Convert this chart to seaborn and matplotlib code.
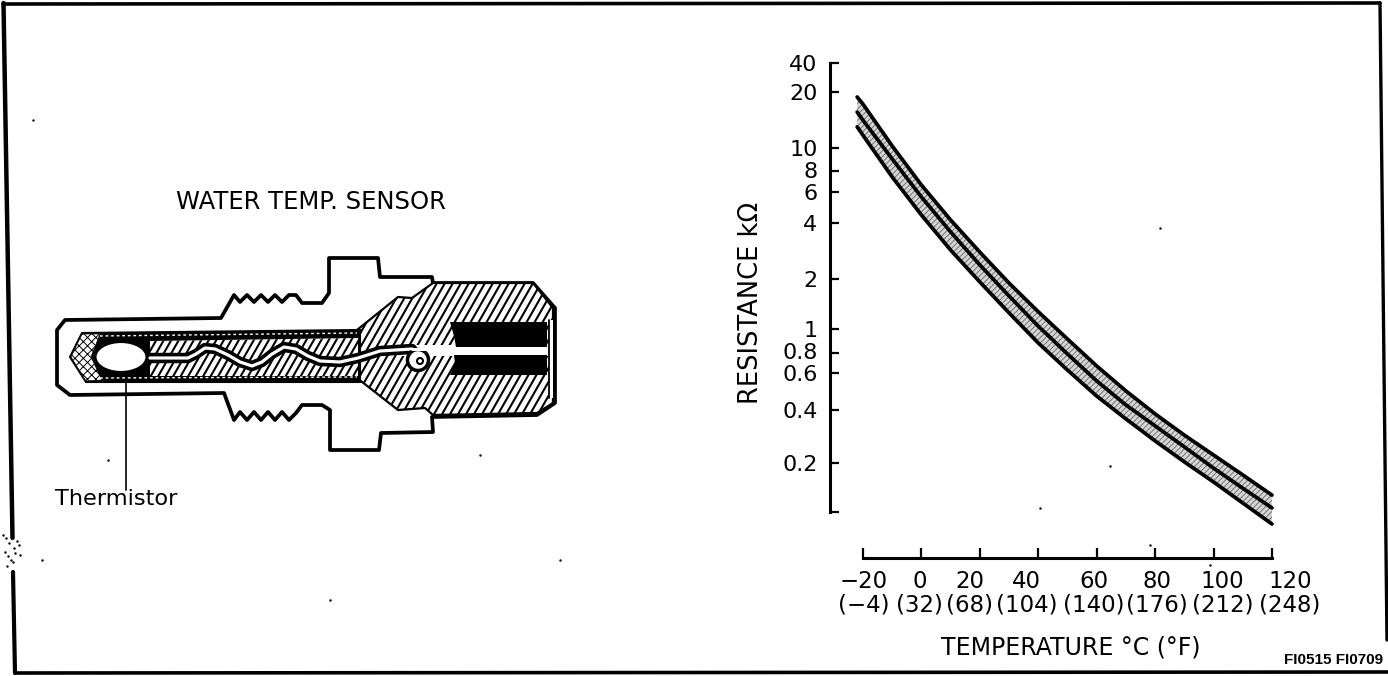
import numpy as np
import pandas as pd
import matplotlib
matplotlib.use("Agg")
import matplotlib.pyplot as plt
from matplotlib.patches import Polygon, Ellipse
from matplotlib.ticker import NullLocator
from matplotlib.transforms import ScaledTranslation
import seaborn as sns

# ---------- data ----------
temps = [-22, -20, -10, 0, 10, 20, 30, 40, 50, 60, 70, 80, 90, 100, 110, 120]
upper = [18.8, 17.2, 10.25, 6.60, 4.16, 2.79, 1.89, 1.27, 0.911, 0.664, 0.493, 0.380, 0.288, 0.222, 0.169, 0.127]
center = [15.6, 14.1, 8.99, 5.62, 3.58, 2.38, 1.58, 1.04, 0.789, 0.550, 0.423, 0.325, 0.247, 0.186, 0.140, 0.106]
lower = [13.0, 11.7, 7.37, 4.44, 2.86, 1.92, 1.25, 0.878, 0.626, 0.466, 0.356, 0.267, 0.203, 0.153, 0.1136, 0.0844]
y_ticks = [0.1, 0.2, 0.4, 0.6, 0.8, 1, 2, 4, 6, 8, 10, 20, 40]
y_labels = ["", "0.2", "0.4", "0.6", "0.8", "1", "2", "4", "6", "8", "10", "20", "40"]
x_ticks = [-20, 0, 20, 40, 60, 80, 100, 120]
x_labels = ["\u221220\n(\u22124)", "0\n(32)", "20\n(68)", "40\n(104)",
            "60\n(140)", "80\n(176)", "100\n(212)", "120\n(248)"]
# the printed axis is hand-ruled: pixel row of each y tick (same order as y_ticks)
y_tick_rows = [512, 463, 410, 373, 353, 329, 279, 223, 192, 171, 148, 92, 63]
x_label_shift = [1, -2, -10, -12, -3, 2, 9, 18]
y_label_shift = [0, 0, 0, 0, 2, 0, 0, 0, 0, 1, 0, 0, 0]

sns.set_theme(style="white")
plt.rcParams["font.family"] = ["DejaVu Sans"]
plt.rcParams["hatch.linewidth"] = 0.7

W, H = 1388, 676
fig = plt.figure(figsize=(W / 100, H / 100), dpi=100, facecolor="white")

# ---------- illustration layer (pixel coordinates) ----------
bg = fig.add_axes([0, 0, 1, 1], zorder=0)
bg.set_xlim(0, W)
bg.set_ylim(H, 0)
bg.axis("off")


def stripes(points, z, spacing=8.0, lean=8.0, lw=1.5):
    """Steep diagonal hatching clipped to a polygon."""
    patch = Polygon(points, closed=True, fc="white", ec="none", zorder=z)
    bg.add_patch(patch)
    xs = [p[0] for p in points]
    ys = [p[1] for p in points]
    top, bot = min(ys), max(ys)
    span = (bot - top) * lean / 14.0
    for x0 in np.arange(min(xs) - span, max(xs) + span, spacing):
        ln, = bg.plot([x0, x0 + span], [bot, top], color="black", lw=lw, zorder=z + 0.1)
        ln.set_clip_path(patch)


shell = [(57, 330), (65, 320), (221, 318), (234, 295), (240, 302), (247, 295), (254, 302), (261, 295),
         (268, 302), (275, 295), (282, 302), (289, 295), (296, 295), (302, 303), (322, 303), (329, 293),
         (329, 258), (378, 258), (380, 277), (432, 277), (433, 283), (533, 283), (555, 308), (555, 403),
         (537, 415), (432, 417), (433, 432), (381, 433), (379, 450), (330, 450), (330, 410), (322, 405),
         (302, 405), (296, 413), (289, 420), (282, 412), (275, 420), (268, 412), (261, 420), (254, 412),
         (247, 420), (240, 412), (234, 420), (224, 393), (70, 395), (57, 385)]
bg.add_patch(Polygon(shell, closed=True, fc="white", ec="black", lw=2.7, joinstyle="round", zorder=1))

body = [(357, 330), (398, 297), (412, 298), (433, 283), (533, 283), (553, 308), (553, 403),
        (537, 413), (433, 415), (425, 408), (398, 410), (357, 378)]
stripes(body, 2)
bg.add_patch(Polygon(body, closed=True, fc="none", ec="black", lw=1.6, zorder=2.5))

tube = [(82, 333), (360, 330), (360, 382), (86, 382), (70, 357)]
bg.add_patch(Polygon(tube, closed=True, fc="black", ec="black", lw=1.5, zorder=3))
tip = [(82, 334), (100, 334), (91, 357), (102, 380), (86, 381), (71, 357)]
bg.add_patch(Polygon(tip, closed=True, fc="white", ec="black", hatch="xxxx", lw=0.5, zorder=4))
stripes([(150, 341), (358, 338), (358, 376), (150, 376)], 4, spacing=7.5)
bg.plot([100, 357], [336, 333], color="white", lw=1.0, ls=(0, (2, 2)), zorder=5)
bg.plot([100, 357], [378, 377], color="white", lw=1.0, ls=(0, (2, 2)), zorder=5)

wire_x = [150, 178, 188, 196, 205, 215, 228, 240, 252, 262, 272, 284, 296, 308, 320, 340, 358, 380, 412]
wire_y = [358, 358, 358, 354, 348, 349, 355, 362, 366, 362, 354, 347, 349, 356, 361, 362, 358, 351, 349]
bg.plot(wire_x, wire_y, color="black", lw=7.5, solid_capstyle="round", zorder=5.5)
bg.plot(wire_x, wire_y, color="white", lw=2.3, zorder=6)
bg.add_patch(Ellipse((121, 357), 51, 30, fc="white", ec="black", lw=1.5, zorder=6))
bg.add_patch(Polygon([(400, 345), (549, 345), (549, 356), (400, 356)], closed=True, fc="white", ec="none", zorder=5))
bg.add_patch(Polygon([(549, 320), (553, 320), (553, 398), (549, 398)], closed=True, fc="white", ec="none", zorder=5))
bg.plot([549, 549], [320, 398], color="black", lw=1.3, zorder=6)
bg.add_patch(Polygon([(450, 322), (547, 322), (547, 347), (456, 347), (454, 336)],
                     closed=True, fc="black", ec="none", zorder=6))
bg.add_patch(Polygon([(454, 355), (547, 355), (547, 375), (450, 375), (455, 364)],
                     closed=True, fc="black", ec="none", zorder=6))
bg.add_patch(Ellipse((418, 360), 21, 21, fc="white", ec="black", lw=2.5, zorder=6))
bg.add_patch(Ellipse((420, 361), 6, 6, fc="white", ec="black", lw=1.5, zorder=7))
bg.plot([412, 537], [349, 349], color="white", lw=2.2, zorder=7)
bg.plot([126, 126], [372, 490], color="black", lw=1.2, zorder=8)

bg.text(311, 202, "WATER TEMP. SENSOR", ha="center", va="center", fontsize=17.5, color="black")
bg.text(55, 499, "Thermistor", ha="left", va="center", fontsize=16.2, color="black")
bg.text(1383, 660, "FI0515 FI0709", ha="right", va="center", fontsize=11,
        fontweight="bold", family="Liberation Sans", color="black")

# scan frame
bg.plot([3, 1380], [4, 3], color="black", lw=2.6, zorder=9)
bg.plot([15, W], [673, 672], color="black", lw=2.6, zorder=9)
bg.plot([1380, 1387], [3, 640], color="black", lw=2.4, zorder=9)
bg.plot([3.5, 12.5], [3, 538], color="black", lw=3.2, zorder=9)
bg.plot([13, 15], [572, 673], color="black", lw=3.0, zorder=9)
speck_x = [3, 6, 9, 12, 14, 17, 19, 5, 8, 11, 15, 20, 7, 13, 42, 33, 108, 1160, 950, 1040, 1110, 1150, 1210, 560, 330, 480]
speck_y = [535, 538, 543, 536, 548, 541, 545, 552, 556, 560, 553, 555, 566, 562, 560, 120, 460, 228, 230, 508, 466, 545, 565, 560, 600, 455]
bg.scatter(speck_x, speck_y, s=3, color="black", linewidths=0, zorder=9)

# ---------- chart ----------
ax_l, ax_r, ax_t, ax_b = 830, 1300, 63, 558
ax = fig.add_axes([ax_l / W, 1 - ax_b / H, (ax_r - ax_l) / W, (ax_b - ax_t) / H], zorder=1)
ax.patch.set_alpha(0)

# hand-ruled log axis: positions follow the printed tick rows
log_knots = np.log10(np.array([0.01] + y_ticks + [1000.0]))
row_knots = ax_b - np.array([512 + 163] + y_tick_rows + [63 - 120], dtype=float)


def fwd(v):
    return np.interp(np.log10(np.maximum(np.asarray(v, dtype=float), 1e-9)), log_knots, row_knots)


def inv(p):
    return 10 ** np.interp(np.asarray(p, dtype=float), row_knots, log_knots)


ax.set_yscale("function", functions=(fwd, inv))

n = len(temps)
df = pd.DataFrame({"temp": temps * 3, "res": upper + center + lower,
                   "curve": ["upper"] * n + ["center"] * n + ["lower"] * n})
ax.fill_between(temps, lower, upper, facecolor="#d6d6d6", edgecolor="#707070", hatch="//////", lw=0, zorder=1)
sns.lineplot(data=df, x="temp", y="res", units="curve", estimator=None, color="black",
             lw=2.7, ax=ax, legend=False, zorder=2)

ax.set_xlim(-20 - (863 - ax_l) / 2.921, -20 + (ax_r - 863) / 2.921)
ax.set_ylim(float(inv(0.0)), float(inv(ax_b - ax_t)))

for s in ["top", "right"]:
    ax.spines[s].set_visible(False)
for s in ["left", "bottom"]:
    ax.spines[s].set_linewidth(2.2)
    ax.spines[s].set_color("black")
ax.spines["left"].set_bounds(0.1, 40)
ax.spines["bottom"].set_bounds(-20, 120)

ax.set_yticks(y_ticks)
ax.set_yticklabels(y_labels)
ax.yaxis.set_minor_locator(NullLocator())
ax.set_xticks(x_ticks)
ax.set_xticklabels(x_labels, linespacing=1.0)
ax.tick_params(axis="y", which="major", direction="in", length=6.5, width=1.6, color="black",
               labelsize=16, labelcolor="black", pad=9, left=True)
ax.tick_params(axis="x", which="major", direction="in", length=7, width=1.6, color="black",
               labelsize=16.5, labelcolor="black", pad=9, bottom=True)
for lab, dx in zip(ax.get_xticklabels(), x_label_shift):
    lab.set_transform(lab.get_transform() + ScaledTranslation(dx / 100, 0, fig.dpi_scale_trans))
for lab, dy in zip(ax.get_yticklabels(), y_label_shift):
    lab.set_transform(lab.get_transform() + ScaledTranslation(0, dy / 100, fig.dpi_scale_trans))

ax.set_ylabel("RESISTANCE k\u03a9", fontsize=18.5, color="black", va="center", ha="center")
ax.yaxis.set_label_coords((751 - ax_l) / (ax_r - ax_l), (ax_b - 303) / (ax_b - ax_t))
ax.set_xlabel("TEMPERATURE \u00b0C (\u00b0F)", fontsize=17, color="black", va="center", ha="center")
ax.xaxis.set_label_coords((1071 - ax_l) / (ax_r - ax_l), (ax_b - 647) / (ax_b - ax_t))

fig.savefig("out.png", dpi=100)
